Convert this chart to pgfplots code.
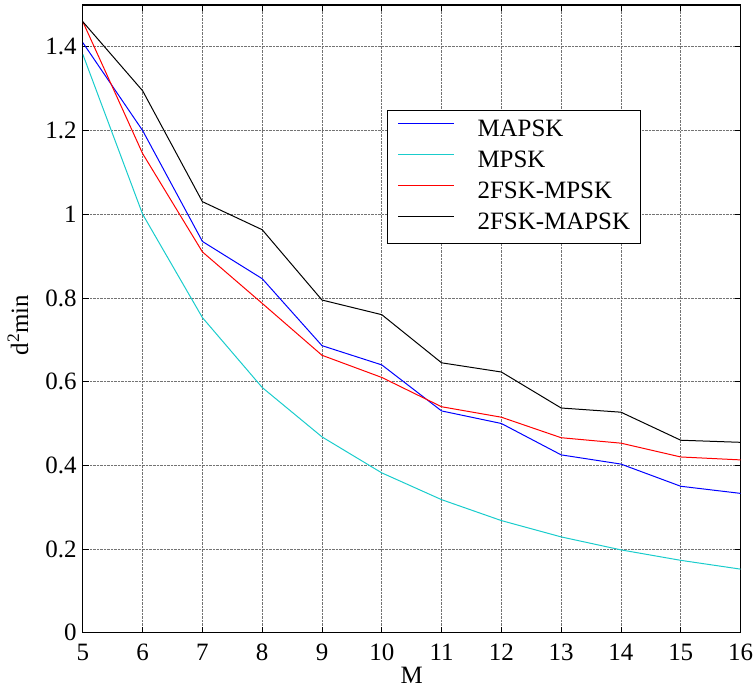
\documentclass[border=0pt]{standalone}
\usepackage{pgfplots}
\pgfplotsset{compat=1.18}
\usepackage{fontspec}
\setmainfont{Liberation Serif}
\definecolor{mcyan}{rgb}{0.1,0.8,0.8}
\definecolor{mblue}{rgb}{0,0,1}
\begin{document}
\begin{tikzpicture}[x=1pt,y=1pt]
\begin{axis}[
  at={(83pt,57pt)}, anchor=south west,
  scale only axis, width=659pt, height=629pt,
  xmin=5, xmax=16, ymin=0, ymax=1.5,
  xtick={5,6,...,16}, ytick={0,0.2,...,1.4},
  yticklabels={0,0.2,0.4,0.6,0.8,1,1.2,1.4},
  xticklabel style={font=\fontsize{25}{28}\selectfont, inner sep=1pt, yshift=-10pt},
  yticklabel style={font=\fontsize{25}{28}\selectfont, inner sep=1pt, xshift=-5pt},
  /pgf/number format/assume math mode=true,
  tick align=inside, major tick length=6pt,
  tick style={black, line width=0.8pt},
  axis line style={black, line width=1.3pt},
  grid=major, major grid style={densely dotted, black!55, line width=0.7pt},
  xlabel={M}, ylabel={d\textsuperscript{2}min},
  xlabel style={font=\fontsize{25}{28}\selectfont, at={(axis description cs:0.5,0)}, anchor=base, yshift=-51pt},
  ylabel style={font=\fontsize{25}{28}\selectfont, at={(axis description cs:-0.0986,0.49)}, anchor=center},
  legend style={at={(axis description cs:0.4628,0.833)}, anchor=north west, line width=1pt,
    font=\fontsize{25}{28}\selectfont, row sep=9pt, inner xsep=10pt, inner ysep=9pt,
    nodes={inner sep=0pt, text height=17pt, text depth=5pt},
    /tikz/every odd column/.append style={column sep=23pt}},
  legend cell align=left,
  legend image code/.code={\draw[#1] (0pt,7pt) -- (56pt,7pt);},
]
\addplot[draw=mblue, line width=1pt] coordinates {(5,1.41)(6,1.20)(7,0.935)(8,0.846)(9,0.686)(10,0.640)(11,0.530)(12,0.500)(13,0.425)(14,0.403)(15,0.350)(16,0.333)};
\addplot[draw=mcyan, line width=1pt] coordinates {(5,1.382)(6,1.000)(7,0.753)(8,0.586)(9,0.468)(10,0.382)(11,0.318)(12,0.268)(13,0.229)(14,0.198)(15,0.173)(16,0.152)};
\addplot[draw=red, line width=1pt] coordinates {(5,1.46)(6,1.145)(7,0.910)(8,0.787)(9,0.663)(10,0.610)(11,0.540)(12,0.515)(13,0.466)(14,0.453)(15,0.420)(16,0.413)};
\addplot[draw=black, line width=1pt] coordinates {(5,1.46)(6,1.295)(7,1.030)(8,0.963)(9,0.795)(10,0.760)(11,0.645)(12,0.623)(13,0.537)(14,0.527)(15,0.460)(16,0.455)};
\legend{MAPSK, MPSK, 2FSK-MPSK, 2FSK-MAPSK}
\end{axis}
\useasboundingbox (0,0) rectangle (754,691);
\end{tikzpicture}
\end{document}
